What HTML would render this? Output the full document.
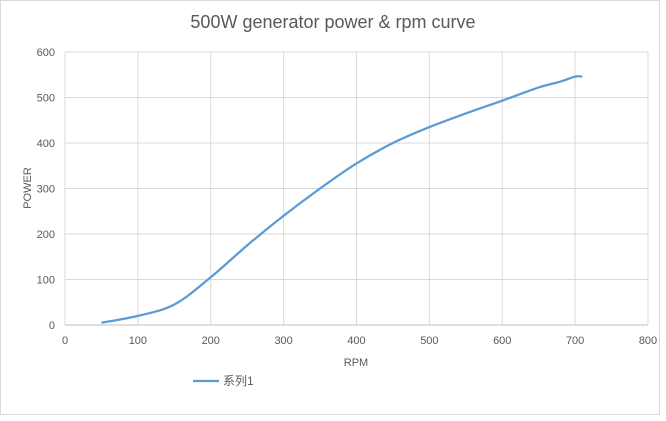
<!DOCTYPE html>
<html><head><meta charset="utf-8"><style>
body{margin:0;background:#fff;}
svg text{font-family:"Liberation Sans","Noto Sans CJK SC",sans-serif;}
</style></head><body>
<svg width="666" height="416">
<rect x="0.5" y="0.5" width="659" height="414" fill="#fff" stroke="#d9d9d9"/>
<text x="333" y="28" text-anchor="middle" font-size="18" fill="#595959">500W generator power &amp; rpm curve</text>
<g id="grid"></g><g id="ticks"></g>
<path id="line" fill="none" stroke="#5b9bd5" stroke-width="2.25" stroke-linejoin="round"/>
<text x="356" y="366" text-anchor="middle" font-size="11" fill="#595959">RPM</text>
<text transform="translate(31,188) rotate(-90)" text-anchor="middle" font-size="11" fill="#595959">POWER</text>
<g>
<line x1="193" y1="381" x2="219" y2="381" stroke="#5b9bd5" stroke-width="2.25"/>
<text x="223" y="385" font-size="12" fill="#595959">系列1</text>
</g>
</svg>
<script>
const rpm=[50,100,150,200,250,300,350,400,450,500,550,600,650,680,700,710];
const power=[5,20,45,105,175,240,300,355,400,435,465,493,522,535,546,546];
const xTicks=[0,100,200,300,400,500,600,700,800];
const yTicks=[0,100,200,300,400,500,600];
const X=v=>65+v*(648-65)/800, Y=v=>325-v*(325-52)/600;
const ns="http://www.w3.org/2000/svg";
const g=document.getElementById('grid'),t=document.getElementById('ticks');
function mk(tag,a,p){const e=document.createElementNS(ns,tag);for(const k in a)e.setAttribute(k,a[k]);p.appendChild(e);return e;}
xTicks.forEach(v=>{
 if(v>0){const l=mk('line',{x1:X(v),x2:X(v),y1:Y(600),y2:Y(0),stroke:'#d9d9d9'},g);
 
 }
 const s=mk('text',{x:X(v),y:344,'text-anchor':'middle','font-size':11,fill:'#595959'},t);s.textContent=v;
 
 
});
yTicks.forEach(v=>{
 const l=mk('line',{x1:X(0),x2:X(800),y1:Y(v),y2:Y(v),stroke:v===0?'#bfbfbf':'#d9d9d9'},g);
 
 
 const s=mk('text',{x:55,y:Y(v)+4,'text-anchor':'end','font-size':11,fill:'#595959'},t);s.textContent=v;
 
 
});
const ax=mk('line',{x1:X(0),x2:X(0),y1:Y(600),y2:Y(0),stroke:'#d9d9d9'},g);


// smooth path (Catmull-Rom)
const P=rpm.map((r,i)=>[X(r),Y(power[i])]);
let d='M'+P[0][0]+','+P[0][1];
for(let i=0;i<P.length-1;i++){const p0=P[Math.max(0,i-1)],p1=P[i],p2=P[i+1],p3=P[Math.min(P.length-1,i+2)];
 d+=` C${p1[0]+(p2[0]-p0[0])/6},${p1[1]+(p2[1]-p0[1])/6} ${p2[0]-(p3[0]-p1[0])/6},${p2[1]-(p3[1]-p1[1])/6} ${p2[0]},${p2[1]}`;}
document.getElementById('line').setAttribute('d',d);
</script>
</body></html>
